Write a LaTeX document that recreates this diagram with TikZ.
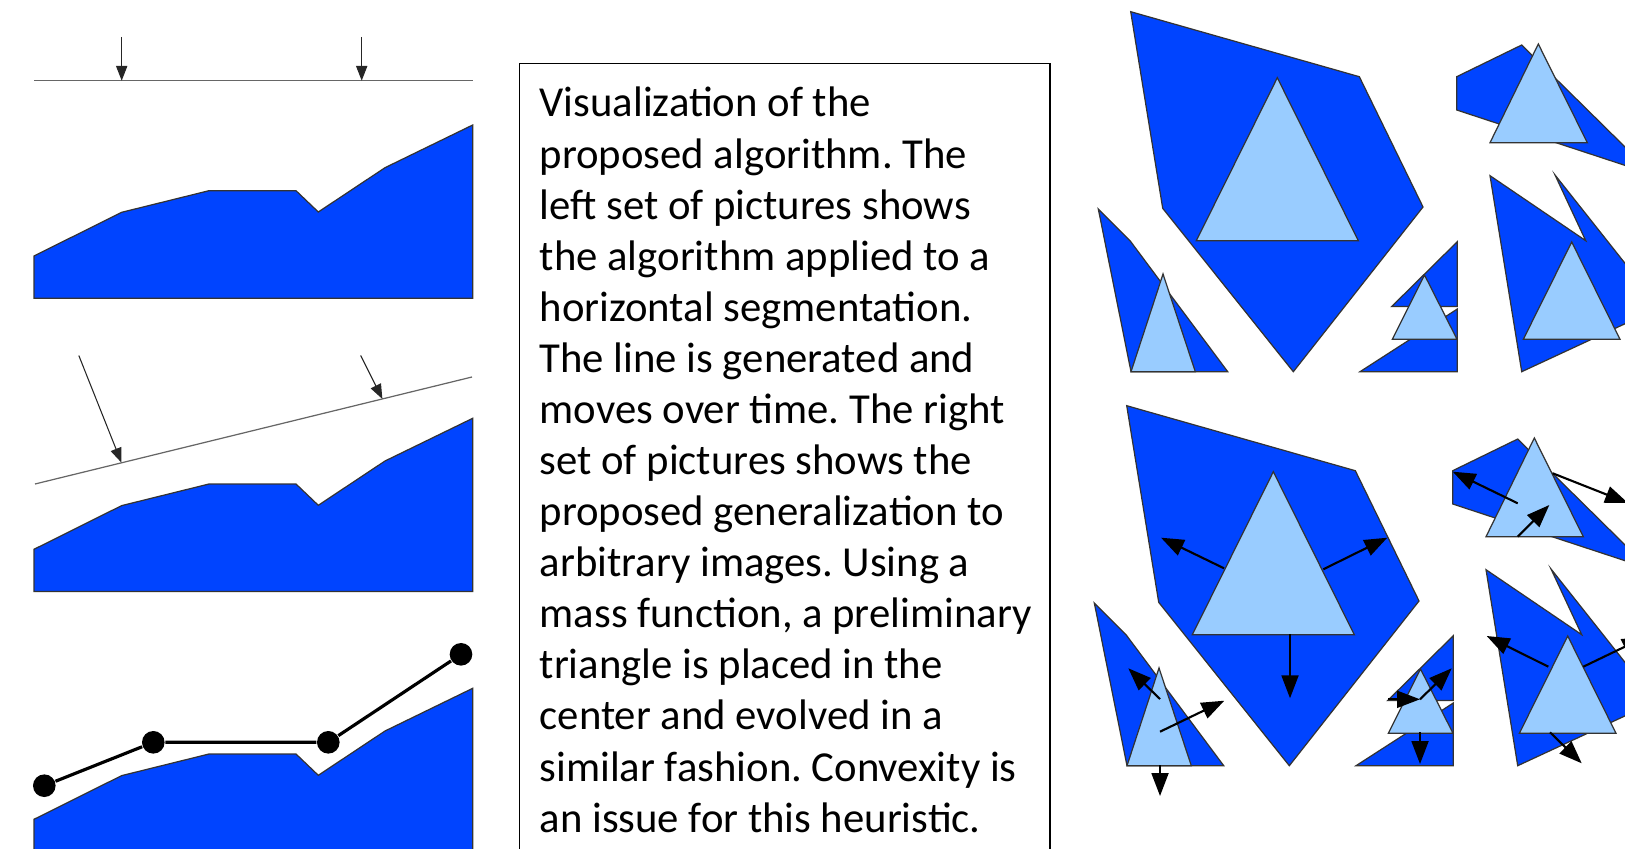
\documentclass[tikz,border=0pt]{standalone}
\usepackage{fontspec}
\setmainfont{Carlito}
\usetikzlibrary{arrows.meta}
\frenchspacing

\definecolor{segblue}{RGB}{0,68,255}
\definecolor{trifill}{RGB}{153,204,255}
\newcommand{\blurbfont}{\fontsize{12.15pt}{14.6pt}\selectfont}

% one segmented profile (left column)
\newcommand{\terrain}{%
  \filldraw[region] (34,256) -- (121.7,212.3) -- (209,190.7) -- (296,190.7) -- (318.3,212)
    -- (385,167.7) -- (472.7,125) -- (472.7,298.3) -- (34,298.3) -- cycle;}

% the arbitrary segments with their triangles (right column)
\newcommand{\pieces}{%
  % large piece
  \filldraw[region] (1130.7,11.7) -- (1359.3,76.7) -- (1423,207) -- (1293.3,371.7) -- (1162.7,208.3) -- cycle;
  \filldraw[tri] (1277.3,77.7) -- (1358.3,240.7) -- (1196.3,240.7) -- cycle;
  % thin piece on the left
  \filldraw[region] (1098.3,209) -- (1130,240.7) -- (1227.7,371.7) -- (1131,371.7) -- cycle;
  \filldraw[tri] (1163,274) -- (1195.3,371.7) -- (1131,371.7) -- cycle;
  % split piece in the middle
  \filldraw[region] (1457.3,241.7) -- (1457.3,306.5) -- (1391.7,306.5) -- cycle;
  \filldraw[region] (1457.3,309) -- (1457.3,371.7) -- (1360,371.7) -- cycle;
  \filldraw[tri] (1424.5,275) -- (1457,339.3) -- (1392.3,339.3) -- cycle;
  % top right piece
  \filldraw[region] (1456.7,76.7) -- (1521.7,45) -- (1530,53.3) -- (1653,174.6) -- (1456.7,110) -- cycle;
  \filldraw[tri] (1538.3,44) -- (1587.3,142.7) -- (1490,142.7) -- cycle;
  % non-convex piece bottom right
  \filldraw[region] (1490,175.7) -- (1585.7,240.7) -- (1555,175) -- (1660,307.5) -- (1521.7,371.7) -- cycle;
  \filldraw[tri] (1571.7,242) -- (1620,339.3) -- (1523.3,339.3) -- cycle;}

\begin{document}
\begin{tikzpicture}[x=0.01cm, y=-0.01cm,
    region/.style={fill=segblue, draw=black!80, line width=0.35pt},
    tri/.style={fill=trifill, draw=black!80, line width=0.35pt},
    scanline/.style={draw=black!60, line width=0.35pt},
    probe/.style={-{Triangle[length=4.2pt,width=3.2pt]}, black!85, line width=0.3pt},
    push/.style={-{Triangle[length=6.5pt,width=4.8pt]}, line width=0.6pt},
    knot/.style={circle, fill=black, inner sep=0pt, minimum size=0.226cm},
    blurb/.style={anchor=base west, inner sep=0pt, font=\blurbfont}]

    \useasboundingbox (0,0) rectangle (1625,849);
    \clip (0,0) rectangle (1625,849);

    % ---- left column: horizontal segmentation ----
    \terrain
    \draw[scanline] (34,80.7) -- (472.7,80.7);
    \draw[probe] (121.7,37) -- (121.7,80.7);
    \draw[probe] (361.7,37) -- (361.7,80.7);

    \begin{scope}[shift={(0,293.3)}]
      \terrain
    \end{scope}
    \draw[scanline] (35,484) -- (472,377);
    \draw[probe] (78.8,355.5) -- (121.5,462.7);
    \draw[probe] (360.7,355.5) -- (382.4,399);

    \begin{scope}[shift={(0,563.3)}]
      \terrain
    \end{scope}
    \node[knot] (k1) at (44.3,785.7) {};
    \node[knot] (k2) at (153.3,742.3) {};
    \node[knot] (k3) at (328.3,742.3) {};
    \node[knot] (k4) at (461,654.3) {};
    \draw[line width=0.9pt] (k1) -- (k2) -- (k3) -- (k4);

    % ---- caption box ----
    \draw[line width=0.45pt] (519.3,63.3) rectangle (1049.9,900);
    \foreach \txt [count=\i] in {Visualization of the, proposed algorithm. The,
        left set of pictures shows, the algorithm applied to a,
        horizontal segmentation., The line is generated and,
        moves over time. The right, set of pictures shows the,
        proposed generalization to, arbitrary images. Using a,
        {mass function, a preliminary}, triangle is placed in the,
        center and evolved in a, similar fashion. Convexity is,
        an issue for this heuristic.}
      \node[blurb] (ln\i) at (539,{117+51.08*(\i-1)}) {\txt};

    % ---- right column: arbitrary images ----
    \pieces
    \begin{scope}[shift={(-4,394)}]
      \pieces
    \end{scope}

    % growth directions
    \draw[push] (1224,568.3) -- (1161,537.7);
    \draw[push] (1323.3,569.3) -- (1387.3,537.7);
    \draw[push] (1290,634.3) -- (1290,698.3);
    \draw[push] (1160,699) -- (1128.3,668.3);
    \draw[push] (1160,731.7) -- (1224.3,700.7);
    \draw[push] (1160,765) -- (1160,796);
    \draw[push] (1388.3,699.3) -- (1420,699.3);
    \draw[push] (1420,699.3) -- (1451.7,668.3);
    \draw[push] (1420,732.3) -- (1420,764);
    \draw[push] (1517.7,503.3) -- (1452.7,471.7);
    \draw[push] (1517.7,536.7) -- (1549.3,505);
    \draw[push] (1552.7,473.3) -- (1628,503);
    \draw[push] (1548.3,666.7) -- (1486.7,636);
    \draw[push] (1583.3,666.7) -- (1645,637);
    \draw[push] (1550,732.3) -- (1581.7,763.3);

\end{tikzpicture}
\end{document}
